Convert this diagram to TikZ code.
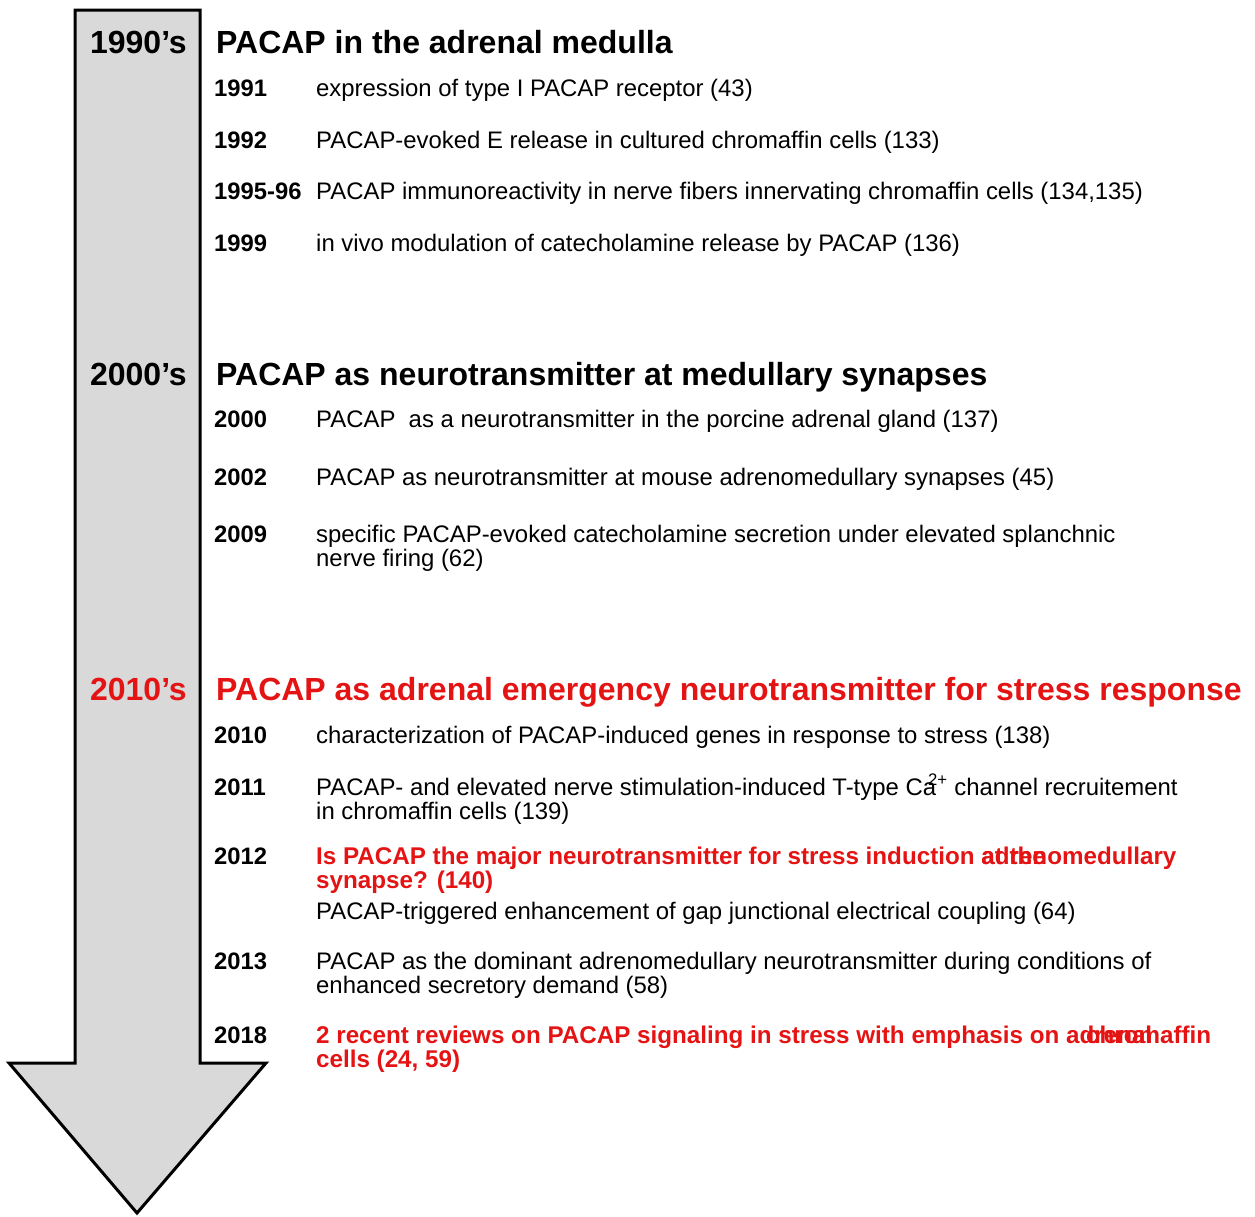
\documentclass[tikz,border=0pt]{standalone}
\usepackage{fontspec}
\setmainfont{Liberation Sans}
\definecolor{alarm}{RGB}{228,20,20}
\begin{document}
\begin{tikzpicture}[
        x=1pt, y=-1pt, % координаты в пикселях, ось y вниз
        dec/.style = {anchor=base east, inner sep=0pt, font=\fontsize{32}{34}\selectfont\bfseries},
        hdr/.style = {anchor=base west, inner sep=0pt, font=\fontsize{32}{34}\selectfont\bfseries},
        yr/.style  = {anchor=base west, inner sep=0pt, font=\fontsize{23.8}{24}\selectfont\bfseries},
        txt/.style = {anchor=base west, inner sep=0pt, align=left, font=\fontsize{23.9}{24}\selectfont},
        two/.style = {yshift=-24pt}, % две строки: base у последней строки
        hot/.style = {text=alarm, font=\fontsize{24.2}{24}\selectfont\bfseries}, % красный текст
    ]
    \useasboundingbox (0,0) rectangle (1255,1216);

    % стрелка времени
    \draw[line width=3pt, fill=black!15, miter limit=20]
        (75,10) -- (200,10) -- (200,1063) -- (266,1063) -- (137,1213)
        -- (9,1063) -- (75,1063) -- cycle;

    % 1990's
    \node[dec] (d1990) at (187,53) {1990’s};
    \node[hdr] (h1990) at (216,53) {PACAP in the adrenal medulla};
    \node[yr] (y1991) at (214,96) {1991};
    \node[txt] (t1991) at (316,96) {expression of type I PACAP receptor (43)};
    \node[yr] (y1992) at (214,148) {1992};
    \node[txt] (t1992) at (316,148) {PACAP-evoked E release in cultured chromaffin cells (133)};
    \node[yr] (y1995) at (214,199) {1995-96};
    \node[txt] (t1995) at (316,199) {PACAP immunoreactivity in nerve fibers innervating chromaffin cells (134,135)};
    \node[yr] (y1999) at (214,251) {1999};
    \node[txt] (t1999) at (316,251) {in vivo modulation of catecholamine release by PACAP (136)};

    % 2000's
    \node[dec] (d2000) at (187,385) {2000’s};
    \node[hdr] (h2000) at (216,385) {PACAP as neurotransmitter at medullary synapses};
    \node[yr] (y2000) at (214,427) {2000};
    \node[txt] (t2000) at (316,427) {PACAP\ \ as a neurotransmitter in the porcine adrenal gland (137)};
    \node[yr] (y2002) at (214,485) {2002};
    \node[txt] (t2002) at (316,485) {PACAP as neurotransmitter at mouse adrenomedullary synapses (45)};
    \node[yr] (y2009) at (214,542) {2009};
    \node[txt, two] (t2009) at (316,542) {specific PACAP-evoked catecholamine secretion under elevated splanchnic\\nerve firing (62)};

    % 2010's
    \node[dec, text=alarm] (d2010) at (187,700) {2010’s};
    \node[hdr, text=alarm] (h2010) at (216,700) {PACAP as adrenal emergency neurotransmitter for stress response};
    \node[yr] (y2010) at (214,743) {2010};
    \node[txt] (t2010) at (316,743) {characterization of PACAP-induced genes in response to stress (138)};
    \node[yr] (y2011) at (214,795) {2011};
    \node[txt, two] (t2011) at (316,795) {PACAP- and elevated nerve stimulation-induced T-type Ca\kern-8pt\textsuperscript{2+} channel recruitement\\in chromaffin cells (139)};
    \node[yr] (y2012) at (214,864) {2012};
    \node[txt, two, hot] (t2012) at (316,864) {Is PACAP the major neurotransmitter for stress induction \rlap{at the}adrenomedullary\\synapse? (140)};
    \node[txt] (t2012b) at (316,919) {PACAP-triggered enhancement of gap junctional electrical coupling (64)};
    \node[yr] (y2013) at (214,969) {2013};
    \node[txt, two] (t2013) at (316,969) {PACAP as the dominant adrenomedullary neurotransmitter during conditions of\\enhanced secretory demand (58)};
    \node[yr] (y2018) at (214,1043) {2018};
    \node[txt, two, hot] (t2018) at (316,1043) {2 recent reviews on PACAP signaling in stress with emphasis on \rlap{adrenal}\hspace{20pt}chromaffin\\cells (24, 59)};

\end{tikzpicture}
\end{document}
